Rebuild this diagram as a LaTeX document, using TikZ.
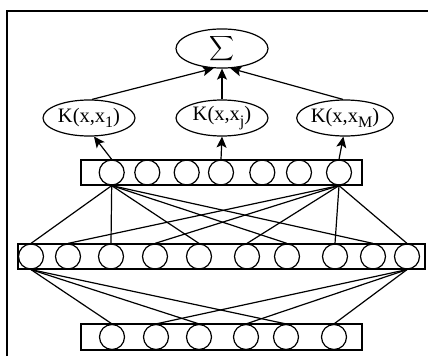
\documentclass[tikz,border=0pt]{standalone}
\usepackage{amsmath}
\usepackage{fontspec}
\setmainfont{Liberation Serif}
\usetikzlibrary{shapes.geometric,arrows.meta}
\begin{document}
\begin{tikzpicture}[x=1pt,y=-1pt,
  line width=1.2pt,
  unit/.style={circle,draw,minimum size=25pt,inner sep=0pt},
  layer/.style={draw,rectangle,inner sep=0pt},
  kern/.style={ellipse,draw,minimum width=92pt,minimum height=36pt,inner sep=0pt,
    font=\fontsize{20.5}{22}\selectfont},
  sumnode/.style={ellipse,draw,minimum width=92pt,minimum height=33pt,inner sep=0pt},
  arr/.style={-{Stealth[length=11pt,width=10pt,inset=2.5pt]}},
  link/.style={line width=1.2pt}]
\useasboundingbox (0,0) rectangle (428,356);
% frame
\draw[line width=1.4pt] (7,356) -- (7,11) -- (428,11);

% layer boxes
\node[layer,minimum width=281pt,minimum height=25pt] (boxT) at (221.5,172.5) {};
\node[layer,minimum width=407pt,minimum height=25pt] (boxM) at (221.5,256.5) {};
\node[layer,minimum width=281pt,minimum height=26pt] (boxB) at (221.5,337) {};

% top layer units
\foreach \i/\x in {1/111.7,2/147.3,3/186.7,4/221,5/262.3,6/299,7/339}
  \node[unit] (t\i) at (\x,172.5) {};
% middle layer units
\foreach \i/\x in {1/31,2/68,3/111,4/155,5/199,6/247,7/287,8/335,9/373,10/407}
  \node[unit] (m\i) at (\x,256.5) {};
% bottom layer units
\foreach \i/\x in {1/112,2/156,3/199,4/246,5/286,6/334}
  \node[unit] (b\i) at (\x,337) {};

% kernel and sum nodes
\node[kern] (k1) at (89,118) {K(x,x\raisebox{-0.28em}{\fontsize{16}{16}\selectfont 1})};
\node[kern] (kj) at (222,118) {K(x,x\raisebox{-0.28em}{\fontsize{16}{16}\selectfont j})};
\node[kern] (km) at (345,118) {K(x,x\raisebox{-0.28em}{\fontsize{16}{16}\selectfont M})};
\node[sumnode] (sig) at (222,48.5) {\fontsize{16}{16}\selectfont$\displaystyle\sum$};

% kernel outputs to the sum
\draw[arr] (k1.north) ++(3,0) coordinate (k1o) -- (sig.247);
\draw[arr] (kj.north) -- (sig.south);
\draw[arr] (km.north) ++(-2,0) coordinate (kmo) -- (sig.293);

% top layer to kernels
\draw[arr] (t1.north) -- (k1.-75);
\draw[arr] (t4.north) -- (kj.south);
\draw[arr] (t7.north) -- (km.-95);

% top layer to middle layer
\foreach \j in {1,3,5,7,9} \draw[link] (t1.south) -- (m\j.north);
\foreach \j in {2,4,6,8,10} \draw[link] (t7.south) -- (m\j.north);

% middle layer to bottom layer
\foreach \j in {1,3,5} \draw[link] (m1.south) -- (b\j.north);
\foreach \j in {2,4,6} \draw[link] (m10.south) -- (b\j.north);
\end{tikzpicture}
\end{document}
